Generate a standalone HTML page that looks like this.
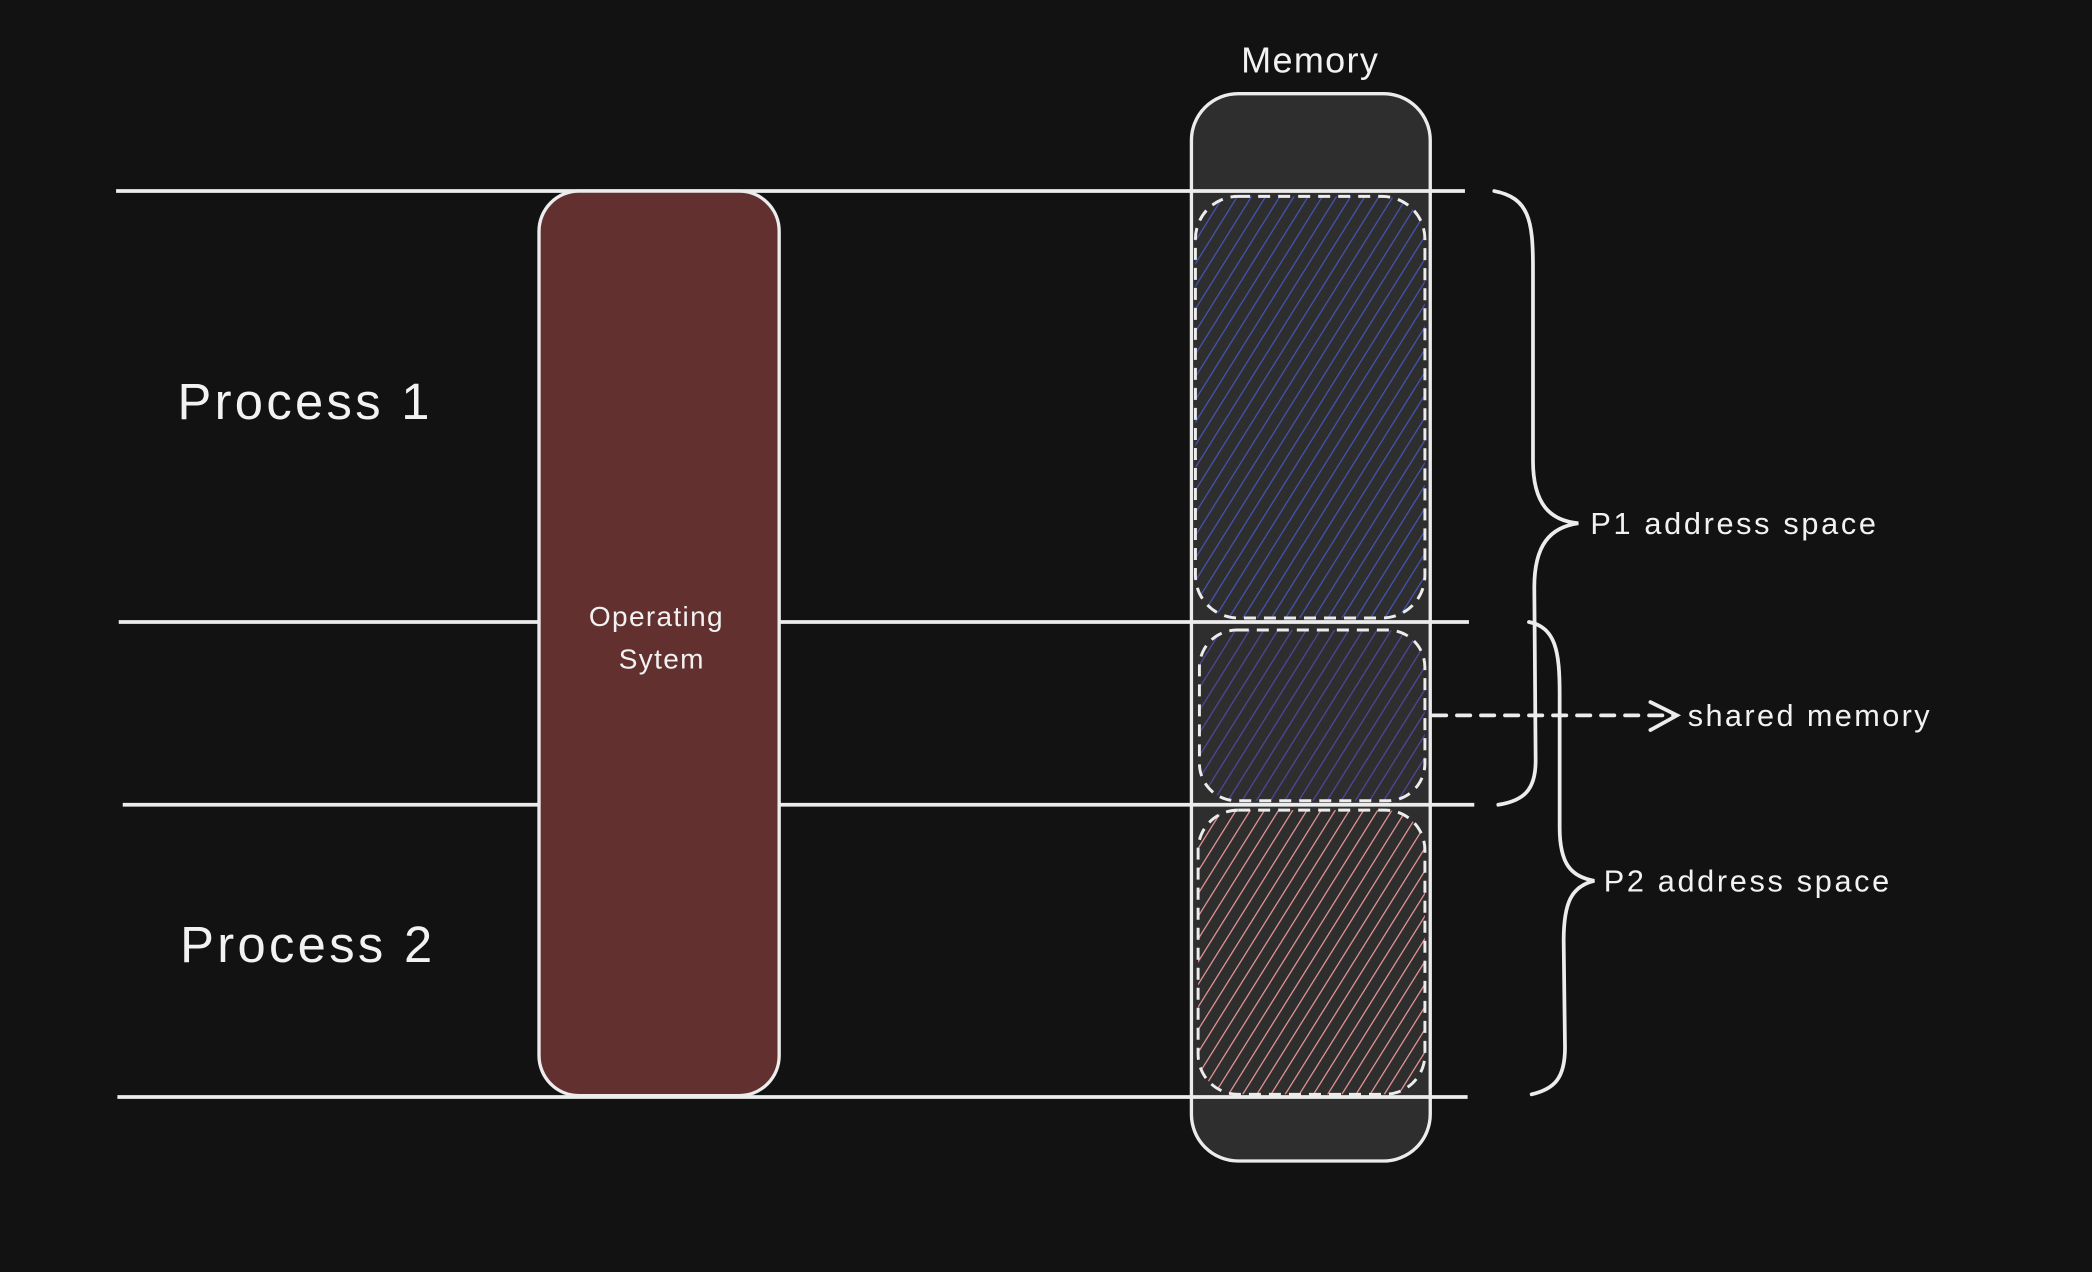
<!DOCTYPE html>
<html><head><meta charset="utf-8"><style>
html,body{margin:0;padding:0;background:#121212;}
svg{display:block;}
text{font-family:"Liberation Sans",sans-serif;fill:#f2f2f2;}
</style></head><body>
<svg width="2092" height="1272" viewBox="0 0 1568 953" xmlns="http://www.w3.org/2000/svg">
<defs>
<pattern id="hb" patternUnits="userSpaceOnUse" width="9" height="9" patternTransform="rotate(32)">
<line x1="0" y1="0" x2="0" y2="9" stroke="#4656b8" stroke-width="1.8"/></pattern>
<pattern id="hp" patternUnits="userSpaceOnUse" width="9" height="9" patternTransform="rotate(32)">
<line x1="0" y1="0" x2="0" y2="9" stroke="#5546a0" stroke-width="1.8"/></pattern>
<pattern id="hr" patternUnits="userSpaceOnUse" width="9" height="9" patternTransform="rotate(32)">
<line x1="0" y1="0" x2="0" y2="9" stroke="#f09a9a" stroke-width="1.8"/></pattern>
</defs>
<rect width="1568" height="953" fill="#121212"/>
<rect x="893" y="70" width="179" height="800" rx="35" fill="#2e2e2e" stroke="#ececec" stroke-width="2.5"/>
<text x="982" y="54" font-size="27" text-anchor="middle" letter-spacing="1">Memory</text>
<rect x="896" y="147" width="172" height="316" rx="32" fill="url(#hb)" stroke="#ececec" stroke-width="2.2" stroke-dasharray="9 6"/>
<rect x="899" y="472" width="169" height="128" rx="28" fill="url(#hp)" stroke="#ececec" stroke-width="2.2" stroke-dasharray="9 6"/>
<rect x="898" y="607" width="170" height="213" rx="30" fill="url(#hr)" stroke="#ececec" stroke-width="2.2" stroke-dasharray="9 6"/>
<g stroke="#ececec" stroke-width="2.8">
<line x1="87" y1="143" x2="1098" y2="143"/>
<line x1="89" y1="466" x2="1101" y2="466"/>
<line x1="92" y1="603" x2="1105" y2="603"/>
<line x1="88" y1="822" x2="1100" y2="822"/>
</g>
<rect x="404" y="143" width="180" height="678" rx="30" fill="#633030" stroke="#ececec" stroke-width="2.5"/>
<text x="492" y="469" font-size="21" text-anchor="middle" letter-spacing="1">Operating</text>
<text x="496" y="501" font-size="21" text-anchor="middle" letter-spacing="1">Sytem</text>
<text x="133" y="314" font-size="38" letter-spacing="2.5">Process 1</text>
<text x="135" y="721" font-size="38" letter-spacing="2.5">Process 2</text>
<g fill="none" stroke="#ececec" stroke-width="2.8" stroke-linecap="round">
<path d="M1120,143 C1146,148 1149,165 1149,200 L1149,345 C1149,378 1162,390 1183,392 C1162,395 1150,408 1150,440 L1151,570 C1151,592 1142,600 1123,603"/>
<path d="M1146,466 C1166,470 1169,488 1169,520 L1169,620 C1169,648 1178,657 1195,660 C1178,664 1172,676 1172,705 L1173,785 C1173,808 1165,816 1148,820"/>
<path d="M1074,536 L1255,536" stroke-dasharray="10 8"/>
<path d="M1237,526 L1257,536 L1237,547"/>
</g>
<text x="1192" y="400" font-size="23" letter-spacing="2">P1 address space</text>
<text x="1265" y="544" font-size="23" letter-spacing="1.8">shared memory</text>
<text x="1202" y="668" font-size="23" letter-spacing="2">P2 address space</text>
</svg>
</body></html>
